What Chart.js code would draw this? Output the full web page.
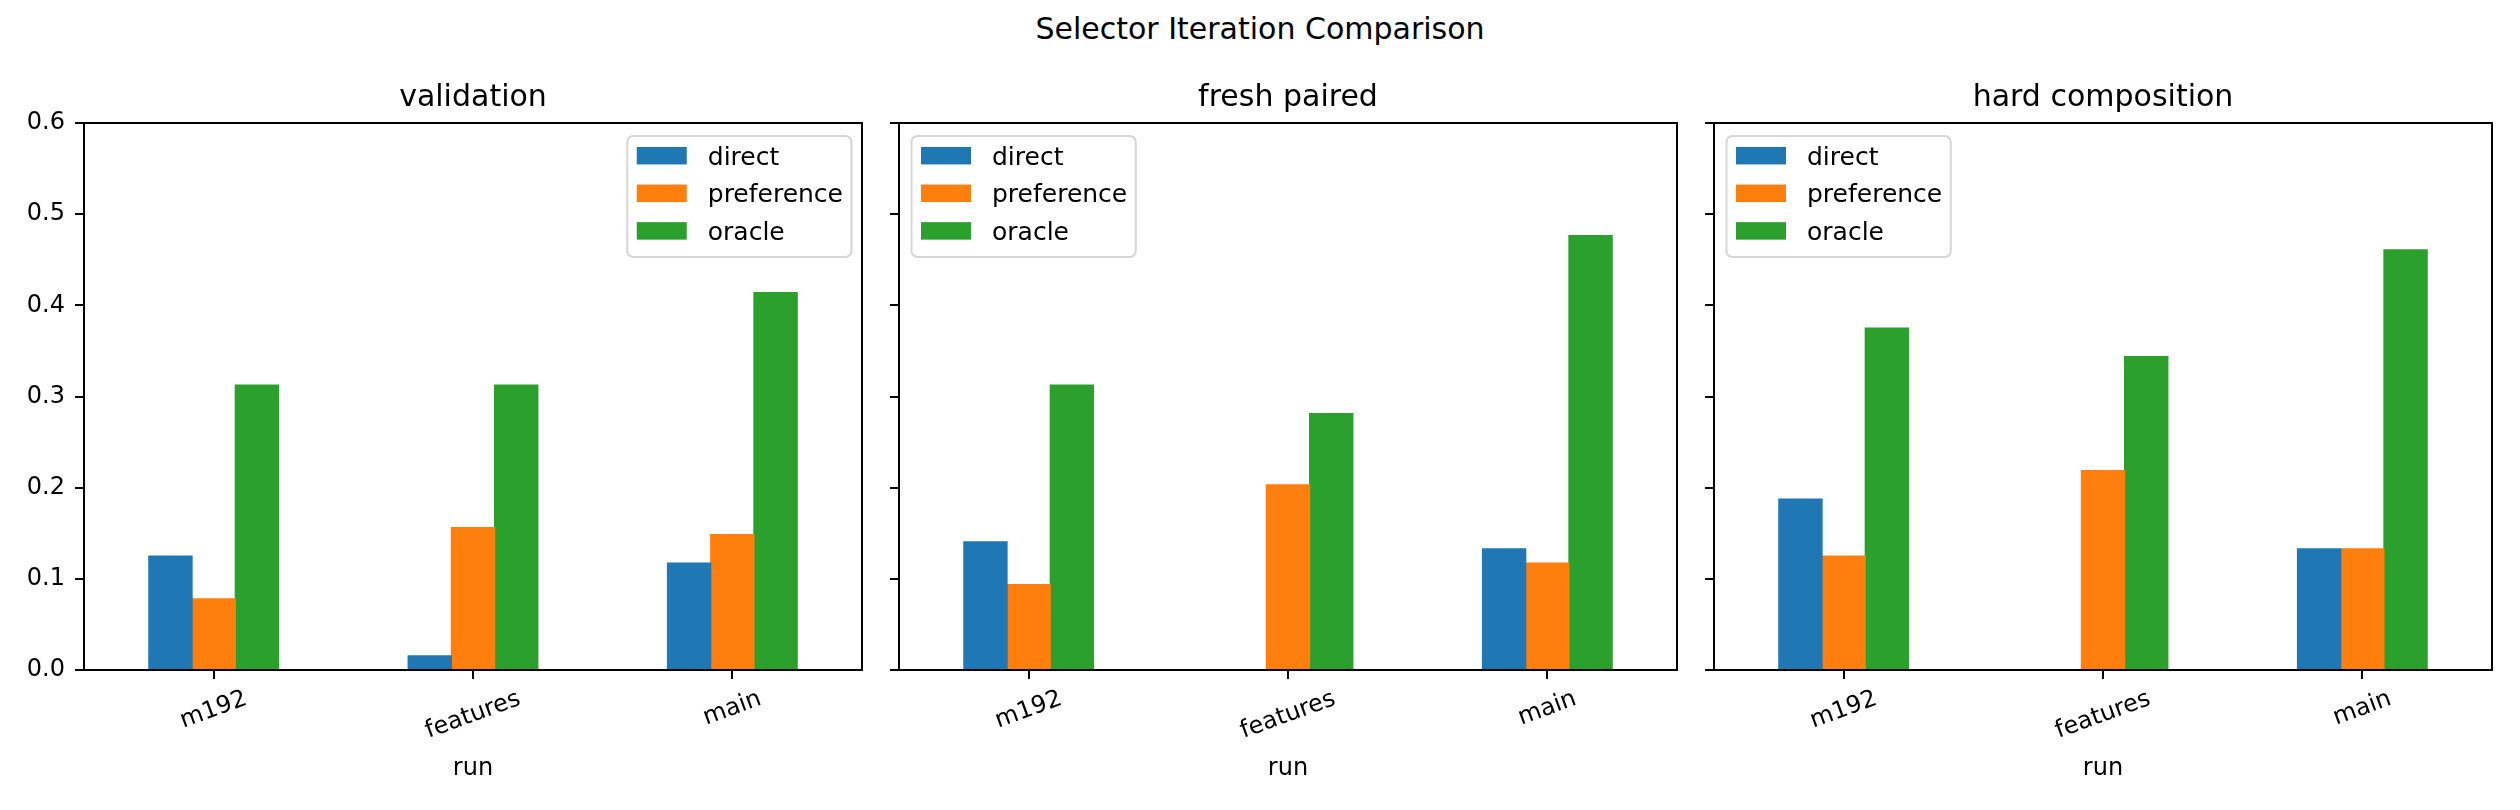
<!DOCTYPE html>
<html>
<head>
<meta charset="utf-8">
<script src="https://cdn.jsdelivr.net/npm/chart.js@4.4.1/dist/chart.umd.min.js"></script>
<style>
body{margin:0;background:#fff;width:2520px;height:810px;overflow:hidden;position:relative;font-family:"DejaVu Sans";}
canvas{position:absolute;top:0;}
#sup{position:absolute;left:0;top:14px;width:2520px;text-align:center;font-size:30px;line-height:30px;color:#000;}
</style>
</head>
<body>
<div id="sup">Selector Iteration Comparison</div>
<canvas id="c1" width="880" height="810" style="left:0px"></canvas>
<canvas id="c2" width="816" height="810" style="left:880px"></canvas>
<canvas id="c3" width="824" height="810" style="left:1696px"></canvas>
<script>
const categories = ["m192", "features", "main"];
const seriesNames = ["direct", "preference", "oracle"];
const panelTitles = ["validation", "fresh paired", "hard composition"];
const yTicks = [0, 0.1, 0.2, 0.3, 0.4, 0.5, 0.6];

const validationDirect = [0.125, 0.0156, 0.1172];
const validationPreference = [0.0781, 0.1563, 0.1484];
const validationOracle = [0.3125, 0.3125, 0.4141];

const freshDirect = [0.1406, 0, 0.1328];
const freshPreference = [0.0938, 0.2031, 0.1172];
const freshOracle = [0.3125, 0.2813, 0.4766];

const hardDirect = [0.1875, 0, 0.1328];
const hardPreference = [0.125, 0.2188, 0.1328];
const hardOracle = [0.375, 0.3438, 0.4609];

const colors = ["#1f77b4", "#ff7f0e", "#2ca02c"];

const panels = [
  {id:"c1", yWidth:84, right:18, legend:"right", showY:true,
   values:[validationDirect, validationPreference, validationOracle]},
  {id:"c2", yWidth:19, right:19, legend:"left", showY:false,
   values:[freshDirect, freshPreference, freshOracle]},
  {id:"c3", yWidth:18, right:28, legend:"left", showY:false,
   values:[hardDirect, hardPreference, hardOracle]}
];

const font = '"DejaVu Sans"';

// frame, titles, rotated tick labels and legend box
const decor = {
  id:"decor",
  afterDraw(chart, args, opts){
    const ctx = chart.ctx;
    const a = chart.chartArea;
    const xs = chart.scales.x;
    ctx.save();

    ctx.strokeStyle = "#000";
    ctx.lineWidth = 2;
    ctx.strokeRect(a.left, a.top, a.right - a.left, a.bottom - a.top);

    ctx.fillStyle = "#000";
    ctx.textAlign = "center";
    ctx.textBaseline = "alphabetic";
    ctx.font = "30px " + font;
    ctx.fillText(opts.title, (a.left + a.right) / 2, a.top - 17);

    ctx.font = "24px " + font;
    ctx.fillText("run", (a.left + a.right) / 2, 775);

    const rot = 20 * Math.PI / 180;
    ctx.textBaseline = "middle";
    chart.data.labels.forEach((lab, i) => {
      const x = xs.getPixelForTick(i);
      const w = ctx.measureText(lab).width;
      const h = 24;
      const bh = w * Math.sin(rot) + h * Math.cos(rot);
      ctx.save();
      ctx.translate(x, a.bottom + 17 + bh / 2);
      ctx.rotate(-rot);
      ctx.fillText(lab, 0, 0);
      ctx.restore();
    });

    ctx.font = "25px " + font;
    let maxW = 0;
    chart.data.datasets.forEach(d => {
      maxW = Math.max(maxW, ctx.measureText(d.label).width);
    });
    const bw = 80.5 + maxW + 8.5;
    const bhLeg = 121;
    const bx = opts.legend === "right" ? a.right - 10.5 - bw : a.left + 12.5;
    const by = a.top + 13;
    ctx.beginPath();
    ctx.roundRect(bx, by, bw, bhLeg, 6);
    ctx.fillStyle = "rgba(255,255,255,0.8)";
    ctx.fill();
    ctx.strokeStyle = "rgba(204,204,204,0.8)";
    ctx.lineWidth = 2;
    ctx.stroke();

    ctx.textAlign = "left";
    ctx.textBaseline = "alphabetic";
    chart.data.datasets.forEach((d, i) => {
      const cy = by + 19.7 + i * 37.6;
      ctx.fillStyle = d.backgroundColor;
      ctx.fillRect(bx + 9.5, cy - 8.75, 50, 17.5);
      ctx.fillStyle = "#000";
      ctx.fillText(d.label, bx + 80.5, cy + 9);
    });

    ctx.restore();
  }
};

panels.forEach((p, k) => {
  const canvas = document.getElementById(p.id);
  new Chart(canvas, {
    type:"bar",
    data:{
      labels:categories,
      datasets:seriesNames.map((name, i) => ({
        label:name,
        data:p.values[i],
        backgroundColor:colors[i],
        borderWidth:0,
        inflateAmount:0.6,
        barPercentage:1,
        categoryPercentage:0.5
      }))
    },
    options:{
      responsive:false,
      animation:false,
      devicePixelRatio:1,
      layout:{padding:{left:0, right:p.right, top:123, bottom:0}},
      plugins:{
        legend:{display:false},
        tooltip:{enabled:false},
        title:{display:false},
        decor:{title:panelTitles[k], legend:p.legend}
      },
      scales:{
        x:{
          grid:{display:true, offset:false, drawOnChartArea:false, drawTicks:true, tickLength:9, color:"#000", lineWidth:2},
          border:{display:false},
          ticks:{display:false},
          afterFit(scale){ scale.height = 140; }
        },
        y:{
          min:0,
          max:0.6,
          afterBuildTicks(scale){ scale.ticks = yTicks.map(v => ({value:v})); },
          grid:{display:true, drawOnChartArea:false, drawTicks:true, tickLength:9, color:"#000", lineWidth:2},
          border:{display:false},
          ticks:{
            display:p.showY,
            padding:10,
            color:"#000",
            font:{family:"DejaVu Sans", size:24},
            callback:v => v.toFixed(1)
          },
          afterFit(scale){ scale.width = p.yWidth; }
        }
      }
    },
    plugins:[decor]
  });
});
</script>
</body>
</html>
